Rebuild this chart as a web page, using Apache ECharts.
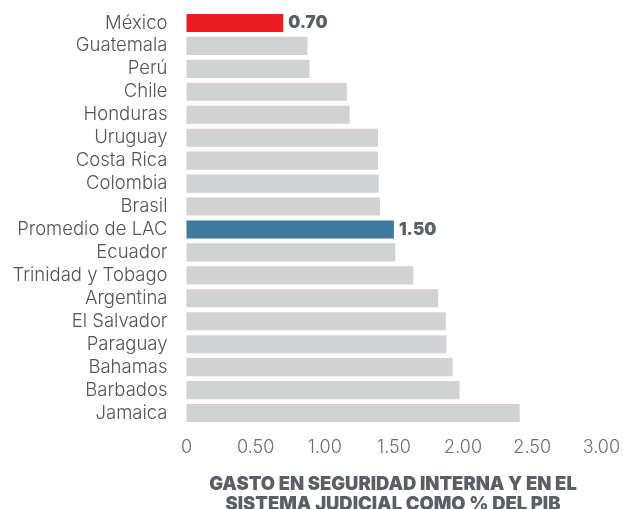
<!DOCTYPE html>
<html>
<head>
<meta charset="utf-8">
<script src="https://cdn.jsdelivr.net/npm/echarts@6/dist/echarts.min.js"></script>
<style>
  html, body { margin: 0; padding: 0; background: #fff; }
  #chart { width: 623px; height: 509px; }
</style>
</head>
<body>
<div id="chart"></div>
<script>
  const paises = ['México', 'Guatemala', 'Perú', 'Chile', 'Honduras', 'Uruguay', 'Costa Rica', 'Colombia', 'Brasil',
    'Promedio de LAC', 'Ecuador', 'Trinidad y Tobago', 'Argentina', 'El Salvador', 'Paraguay', 'Bahamas', 'Barbados', 'Jamaica']
  const gasto = [0.70, 0.875, 0.89, 1.16, 1.18, 1.385, 1.385, 1.39, 1.40,
    1.50, 1.51, 1.64, 1.82, 1.875, 1.88, 1.925, 1.975, 2.41]
  const ticks = [0, 0.5, 1, 1.5, 2, 2.5, 3]
  const destacados = { 'México': '#ED1C24', 'Promedio de LAC': '#3D7A9E' }

  const myChart = echarts.init(document.getElementById('chart'))
  myChart.setOption({
    animation: false,
    textStyle: { fontFamily: 'Inter' },
    grid: { left: 186.5, right: 20, top: 11.5, bottom: 84.5 },
    title: {
      text: 'GASTO EN SEGURIDAD INTERNA Y EN EL\nSISTEMA JUDICIAL COMO % DEL PIB',
      left: 388,
      top: 469,
      textAlign: 'center',
      textStyle: { fontFamily: 'Inter', fontSize: 18.4, fontWeight: 900, color: '#5a5f66', lineHeight: 20 }
    },
    xAxis: {
      type: 'value',
      min: 0,
      max: 3,
      interval: 0.5,
      splitLine: { show: false },
      axisLine: { show: false },
      axisTick: { show: false },
      axisLabel: {
        color: '#6b6e72',
        fontSize: 18,
        fontWeight: 300,
        margin: 14,
        formatter: v => (v === 0 ? '0' : ticks.includes(v) ? v.toFixed(2) : '')
      }
    },
    yAxis: {
      type: 'category',
      inverse: true,
      data: paises,
      axisLine: { show: false },
      axisTick: { show: false },
      axisLabel: { color: '#555', fontSize: 18.5, fontWeight: 300, margin: 19, interval: 0 }
    },
    series: [{
      type: 'bar',
      barCategoryGap: '21%',
      data: gasto.map((v, i) => {
        const c = destacados[paises[i]]
        return {
          value: v,
          itemStyle: { color: c || '#D1D2D4' },
          label: {
            show: !!c,
            position: 'right',
            distance: 5,
            formatter: p => p.value.toFixed(2),
            color: '#5a5f66',
            fontSize: 17,
            fontWeight: 900
          }
        }
      })
    }]
  })
</script>
</body>
</html>
